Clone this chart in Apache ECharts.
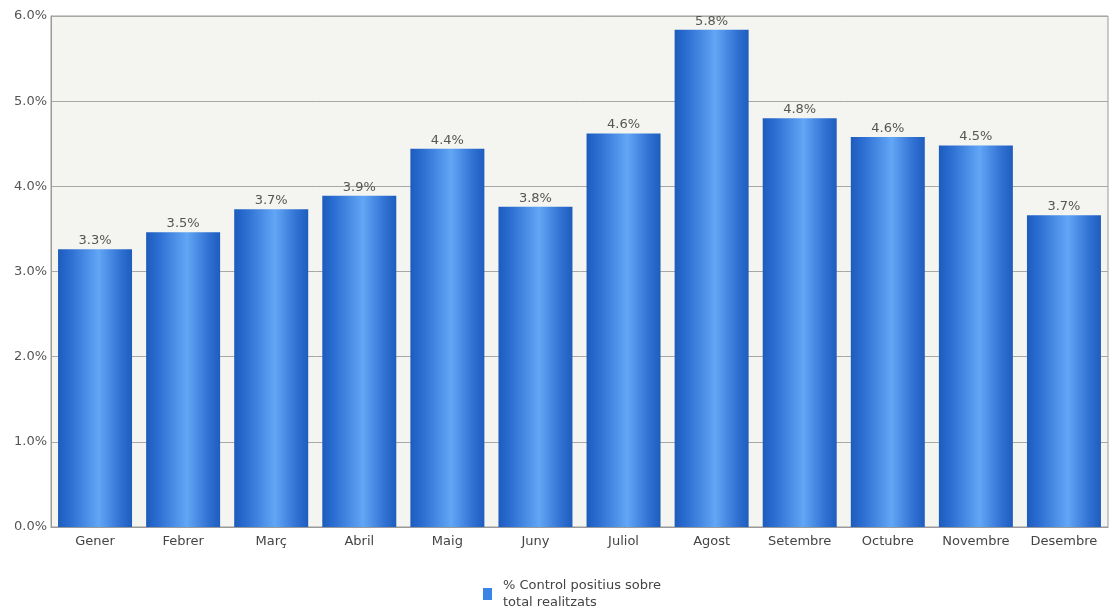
<!DOCTYPE html>
<html>
<head>
<meta charset="utf-8">
<script src="https://cdn.jsdelivr.net/npm/echarts@6/dist/echarts.min.js"></script>
<style>html,body{margin:0;padding:0;background:#fff}#c{width:1109px;height:614px}</style>
</head>
<body>
<div id="c"></div>
<script>
const categories = ['Gener','Febrer','Març','Abril','Maig','Juny','Juliol','Agost','Setembre','Octubre','Novembre','Desembre'];
const values = [3.26, 3.46, 3.73, 3.89, 4.44, 3.76, 4.62, 5.84, 4.80, 4.58, 4.48, 3.66];
const seriesName = '% Control positius sobre\ntotal realitzats';
const yTicks = [0,1,2,3,4,5,6];

const FONT = 'DejaVu Sans, Verdana, sans-serif';
const chart = echarts.init(document.getElementById('c'), null, {renderer:'canvas'});
const barGrad = new echarts.graphic.LinearGradient(0,0,1,0,[
  {offset:0, color:'#1d5cbc'},
  {offset:0.15, color:'#2a6cd0'},
  {offset:0.55, color:'#62a6f6'},
  {offset:0.85, color:'#2f70d2'},
  {offset:1, color:'#1e5dbd'}
]);
chart.setOption({
  animation:false,
  backgroundColor:'#ffffff',
  textStyle:{fontFamily:FONT},
  grid:{left:51, right:1, top:16, bottom:87, show:true, backgroundColor:'#f4f4f0', borderColor:'#9a9a9a', borderWidth:1, containLabel:false},
  legend:{
    top:572, left:478,
    data:[seriesName],
    itemWidth:9, itemHeight:12,
    icon:'rect',
    itemGap:10,
    itemStyle:{color:'#3a84e6'},
    textStyle:{fontSize:13, color:'#444', lineHeight:17, fontFamily:FONT, padding:[0,0,0,6]}
  },
  xAxis:{
    type:'category',
    data:categories,
    axisLine:{show:true, lineStyle:{color:'#9a9a9a'}},
    axisTick:{show:false},
    axisLabel:{color:'#444', fontSize:13, margin:8, fontFamily:FONT},
    splitLine:{show:false}
  },
  yAxis:{
    type:'value',
    min:yTicks[0], max:yTicks[yTicks.length-1], interval:1,
    axisLine:{show:true, lineStyle:{color:'#9a9a9a'}},
    axisTick:{show:false},
    axisLabel:{color:'#555', fontSize:13, margin:4, fontFamily:FONT, formatter:v=>v.toFixed(1)+'%'},
    splitLine:{show:true, lineStyle:{color:'#a8a8a8', width:1}}
  },
  series:[{
    name:seriesName,
    type:'bar',
    data:values,
    barWidth:'84%',
    itemStyle:{color:barGrad},
    label:{show:true, position:'top', distance:2, color:'#555', fontSize:13, fontFamily:FONT, formatter:p=>p.value.toFixed(1)+'%'}
  }]
});
</script>
</body>
</html>
